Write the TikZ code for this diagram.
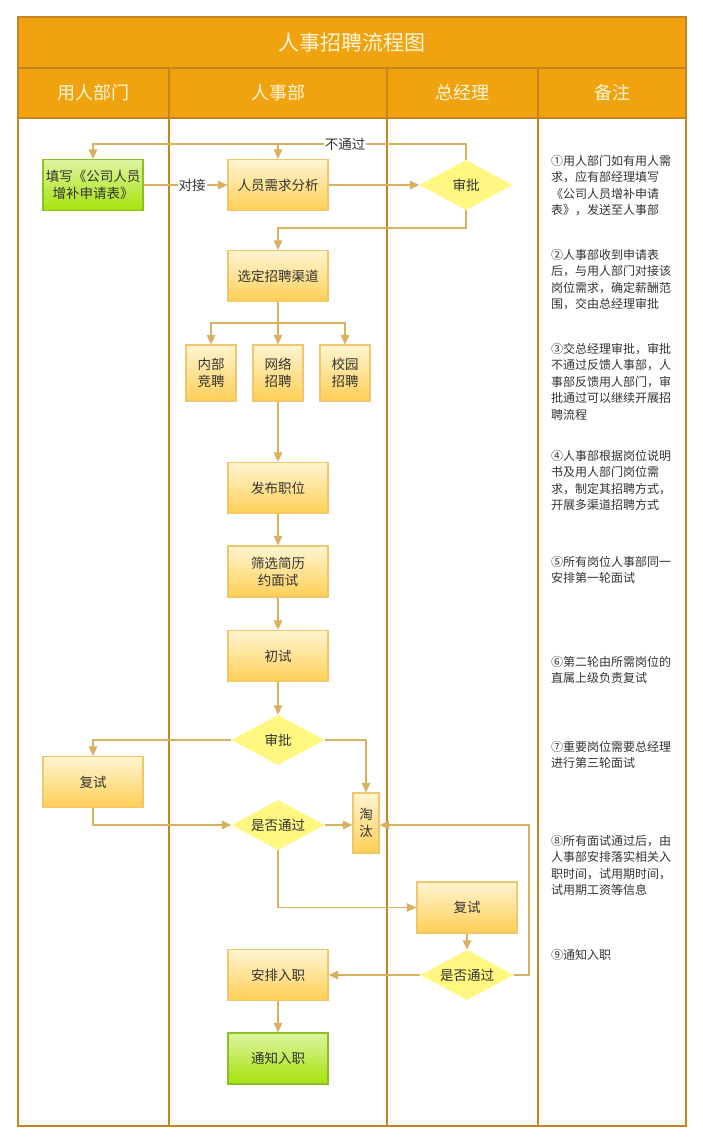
\documentclass[tikz,border=0pt]{standalone}
\usepackage{fontspec}
\setmainfont{Noto Sans CJK SC}
\usetikzlibrary{shapes.geometric,arrows.meta}
\definecolor{laneC}{HTML}{C4841F}
\definecolor{headF}{HTML}{F0A30F}
\definecolor{headT}{HTML}{FFF6DC}
\definecolor{connC}{HTML}{D8B15E}
\definecolor{boxB}{HTML}{EFC66A}
\definecolor{boxT}{HTML}{FFF5D2}
\definecolor{boxBot}{HTML}{FFCF55}
\definecolor{grB}{HTML}{8CBF26}
\definecolor{grT}{HTML}{DDF5A0}
\definecolor{grBot}{HTML}{A6E20A}
\definecolor{diaF}{HTML}{FFF780}
\definecolor{txt}{HTML}{333333}
\begin{document}
\begin{tikzpicture}[x=1pt,y=-1pt,
  lane/.style={draw=laneC,line width=1.6pt},
  box/.style={draw=boxB,line width=1.2pt,top color=boxT,bottom color=boxBot,minimum width=100pt,minimum height=51pt,inner sep=1pt,font=\fontsize{13.5}{17}\selectfont,text=txt,align=center},
  gbox/.style={draw=grB,line width=1.2pt,top color=grT,bottom color=grBot,minimum width=100pt,minimum height=51pt,inner sep=1pt,font=\fontsize{13.5}{17}\selectfont,text=txt,align=center},
  dia/.style={diamond,aspect=1.86,fill=diaF,minimum width=93pt,minimum height=50pt,inner sep=0pt,font=\fontsize{13.5}{17}\selectfont,text=txt},
  conn/.style={draw=connC,line width=1.5pt},
  arr/.style={conn,-{Triangle[length=9.5pt,width=8.5pt]}},
  lbl/.style={fill=white,inner sep=1pt,font=\fontsize{13.5}{17}\selectfont,text=txt},
  note/.style={anchor=north west,inner sep=0pt,align=left,font=\fontsize{12}{16.5}\selectfont,text=txt},
  head/.style={text=headT,font=\fontsize{18}{20}\selectfont}
]
\useasboundingbox (0,0) rectangle (703,1143);
% swimlane frame
\fill[headF] (18,17) rectangle (686,118);
\draw[lane] (18,17) rectangle (686,1126);
\draw[lane] (18,68) -- (686,68);
\draw[lane] (18,118) -- (686,118);
\draw[lane] (169,68) -- (169,1126);
\draw[lane] (387,68) -- (387,1126);
\draw[lane] (538,68) -- (538,1126);
\node[text=headT,font=\fontsize{21}{24}\selectfont] (title) at (352,43) {人事招聘流程图};
\node[head] (h1) at (93.5,93) {用人部门};
\node[head] (h2) at (278,93) {人事部};
\node[head] (h3) at (462.5,93) {总经理};
\node[head] (h4) at (612,93) {备注};
% coordinates
\coordinate (top) at (0,144);
\coordinate (mid) at (0,228);
\coordinate (br) at (0,323);
\coordinate (rt) at (529,0);
\coordinate (nbg) at (345,144);
% nodes
\node[gbox] (fill) at (93,185) {填写《公司人员\\增补申请表》};
\node[box] (ana) at (278,185) {人员需求分析};
\node[dia] (sp1) at (466,185) {审批};
\node[box] (chan) at (278,276) {选定招聘渠道};
\node[box,minimum width=50pt,minimum height=56pt] (int) at (211,373) {内部\\竞聘};
\node[box,minimum width=50pt,minimum height=56pt] (net) at (278,373) {网络\\招聘};
\node[box,minimum width=50pt,minimum height=56pt] (cam) at (345,373) {校园\\招聘};
\node[box] (pub) at (278,488) {发布职位};
\node[box] (scr) at (278,571.5) {筛选简历\\约面试};
\node[box] (fst) at (278,656) {初试};
\node[dia] (sp2) at (278,740) {审批};
\node[box] (re1) at (93,782) {复试};
\node[box,minimum width=26pt,minimum height=60pt,inner sep=0pt] (tao) at (366,823) {淘\\汰};
\node[dia] (ps1) at (278,825) {是否通过};
\node[box] (re2) at (467,907.5) {复试};
\node[dia] (ps2) at (467,975) {是否通过};
\node[box] (arrg) at (278,975) {安排入职};
\node[gbox] (ntf) at (278,1058.5) {通知入职};
% connectors
\draw[arr] (fill.east) -- node[lbl,pos=0.58] (dj) {对接} (ana.west);
\draw[arr] (ana.east) -- (sp1.west);
\draw[arr] (sp1.north) -- (sp1.north |- top) -| (fill.north);
\draw[arr] (ana.north |- top) -- (ana.north);
\node[lbl] (nb) at (nbg) {不通过};
\draw[arr] (sp1.south) -- (sp1.south |- mid) -| (chan.north);
\draw[conn] (chan.south) -- (chan.south |- br);
\draw[arr] (chan.south |- br) -| (int.north);
\draw[arr] (chan.south |- br) -| (cam.north);
\draw[arr] (chan.south |- br) -- (net.north);
\draw[arr] (net.south) -- (pub.north);
\draw[arr] (pub.south) -- (scr.north);
\draw[arr] (scr.south) -- (fst.north);
\draw[arr] (fst.south) -- (sp2.north);
\draw[arr] (sp2.west) -| (re1.north);
\draw[arr] (sp2.east) -| (tao.north);
\draw[arr] (re1.south) |- (ps1.west);
\draw[arr] (ps1.east) -- (ps1.east -| tao.west);
\draw[arr] (ps1.south) |- (re2.west);
\draw[arr] (re2.south) -- (ps2.north);
\draw[arr] (ps2.east) -- (ps2.east -| rt) |- (ps1.east -| tao.east);
\draw[arr] (ps2.west) -- (arrg.east);
\draw[arr] (arrg.south) -- (ntf.north);
% notes
\node[note] (n1) at (551,155) {①用人部门如有用人需\\求，应有部经理填写\\《公司人员增补申请\\表》，发送至人事部};
\node[note] (n2) at (551,249) {②人事部收到申请表\\后，与用人部门对接该\\岗位需求，确定薪酬范\\围，交由总经理审批};
\node[note] (n3) at (551,343) {③交总经理审批，审批\\不通过反馈人事部，人\\事部反馈用人部门，审\\批通过可以继续开展招\\聘流程};
\node[note] (n4) at (551,450) {④人事部根据岗位说明\\书及用人部门岗位需\\求，制定其招聘方式，\\开展多渠道招聘方式};
\node[note] (n5) at (551,556) {⑤所有岗位人事部同一\\安排第一轮面试};
\node[note] (n6) at (551,656) {⑥第二轮由所需岗位的\\直属上级负责复试};
\node[note] (n7) at (551,741) {⑦重要岗位需要总经理\\进行第三轮面试};
\node[note] (n8) at (551,835) {⑧所有面试通过后，由\\人事部安排落实相关入\\职时间，试用期时间，\\试用期工资等信息};
\node[note] (n9) at (551,949) {⑨通知入职};
\end{tikzpicture}
\end{document}
